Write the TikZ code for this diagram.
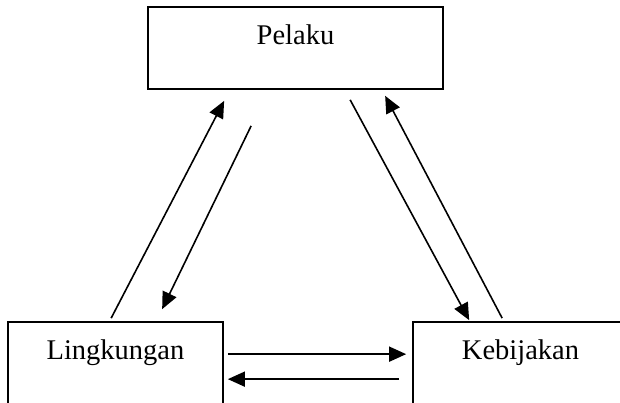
\documentclass[tikz,border=0pt]{standalone}
\usepackage{fontspec}
\setmainfont{Liberation Serif}
\usetikzlibrary{arrows.meta,calc}
\begin{document}
\begin{tikzpicture}[x=1pt,y=-1pt,
  box/.style={draw,line width=1.7pt,inner sep=0pt,minimum width=#1,minimum height=100pt},
  lbl/.style={anchor=base,yshift=-38pt,font=\fontsize{28.5}{34}\selectfont},
  conn/.style={line width=1.6pt,-{Triangle[length=17pt,width=15pt]}}]
\useasboundingbox (0,0) rectangle (620,403);
\clip (0,0) rectangle (620,403);
\node[box=295pt,minimum height=82pt,label={[lbl]north:Pelaku}] (P) at (295.5,48) {};
\node[box=215pt,label={[lbl]north:Lingkungan}] (L) at (115.5,372) {};
\node[box=215pt,label={[lbl]north:Kebijakan}] (K) at (520.5,372) {};
% Lingkungan <-> Pelaku
\draw[conn] ($(L.north west)+(104,-3)$) -- ($(P.south west)+(77,11)$);
\draw[conn] ($(P.south west)+(104,36)$) -- ($(L.north west)+(155,-12)$);
% Pelaku <-> Kebijakan
\draw[conn] ($(P.south west)+(203,10)$) -- ($(K.north west)+(57,-1)$);
\draw[conn] ($(K.north west)+(90,-3)$) -- ($(P.south west)+(238,6)$);
% Lingkungan <-> Kebijakan
\draw[conn] ($(L.north east)+(4,33)$) -- ($(K.north west)+(-6,33)$);
\draw[conn] ($(K.north west)+(-13,58)$) -- ($(L.north east)+(4,58)$);
\end{tikzpicture}
\end{document}
